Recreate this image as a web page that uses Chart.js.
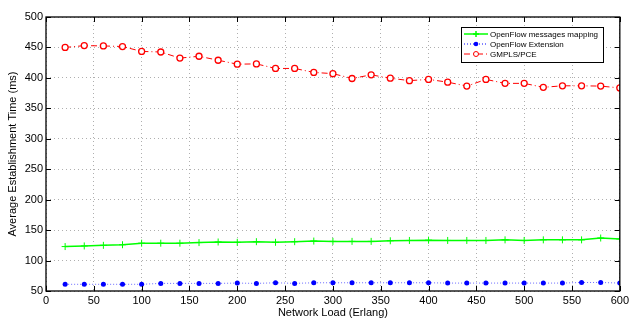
<!DOCTYPE html>
<html>
<head>
<meta charset="utf-8">
<script src="https://cdn.jsdelivr.net/npm/chart.js@4.4.1/dist/chart.umd.min.js"></script>
<style>
  html, body { margin: 0; padding: 0; background: #fff; }
  #wrap { width: 632px; height: 321px; }
</style>
</head>
<body>
<div id="wrap"><canvas id="chart" width="632" height="321"></canvas></div>
<script>
const loads = [20, 40, 60, 80, 100, 120, 140, 160, 180, 200, 220, 240, 260, 280, 300,
               320, 340, 360, 380, 400, 420, 440, 460, 480, 500, 520, 540, 560, 580, 600];
const ofMapping = [123, 124, 125, 126, 128.5, 128.5, 128.5, 129.5, 130.5, 130, 131, 130, 131, 132, 131.5,
                   131.5, 131.5, 132.5, 133, 133.5, 133, 133, 133, 134, 133, 134, 134, 134, 137, 135.5];
const ofExtension = [61, 61, 61, 61, 61, 62.5, 62.5, 62.5, 62.5, 63, 62.5, 63.5, 62.5, 63.5, 63.5,
                     63.5, 63.5, 63.5, 63.5, 63.5, 63, 63, 63, 63, 63, 63, 63, 64, 64, 63];
const gmpls = [450, 453, 452.5, 451.5, 443.5, 442.5, 432.5, 435.5, 429, 422.5, 423, 415.5, 415.5, 409, 407,
               399, 405, 399.5, 395.5, 397.5, 393, 386.5, 397.5, 391, 391, 384.5, 387, 387, 386.5, 383.5];
const xTicks = [0, 50, 100, 150, 200, 250, 300, 350, 400, 450, 500, 550, 600];
const yTicks = [50, 100, 150, 200, 250, 300, 350, 400, 450, 500];

const FONT = "'Liberation Sans', Arial, Helvetica, sans-serif";

const toPoints = (vals) => loads.map((x, i) => ({ x, y: vals[i] }));

// MATLAB-like frame: full box, inward ticks, boxed legend
const framePlugin = {
    id: 'frame',
    afterDraw(chart) {
        const { ctx, chartArea: a, scales } = chart;
        ctx.save();
        ctx.strokeStyle = '#000';
        ctx.lineWidth = 1;
        ctx.beginPath();
        xTicks.forEach(v => {
            const px = Math.round(scales.x.getPixelForValue(v)) + 0.5;
            ctx.moveTo(px, a.bottom); ctx.lineTo(px, a.bottom - 5);
            ctx.moveTo(px, a.top); ctx.lineTo(px, a.top + 5);
        });
        yTicks.forEach(v => {
            const py = Math.round(scales.y.getPixelForValue(v)) + 0.5;
            ctx.moveTo(a.left, py); ctx.lineTo(a.left + 5, py);
            ctx.moveTo(a.right, py); ctx.lineTo(a.right - 5, py);
        });
        ctx.stroke();
        ctx.lineWidth = 1.3;
        ctx.strokeRect(a.left, a.top, a.right - a.left, a.bottom - a.top);

        // legend
        const lx = 461, ly = 27, lw = 142, lh = 35;
        ctx.fillStyle = '#fff';
        ctx.fillRect(lx, ly, lw, lh);
        ctx.lineWidth = 1;
        ctx.strokeRect(lx + 0.5, ly + 0.5, lw, lh);
        const rows = [
            { label: 'OpenFlow messages mapping', color: '#00ff00', dash: [], lw: 1.5, mark: 'cross' },
            { label: 'OpenFlow Extension', color: '#0000ff', dash: [1, 2], lw: 1, mark: 'dot' },
            { label: 'GMPLS/PCE', color: '#ff0000', dash: [6, 3, 1, 3], lw: 1, mark: 'circle' }
        ];
        ctx.font = '8px ' + FONT;
        ctx.textBaseline = 'middle';
        rows.forEach((r, i) => {
            const y = 34 + i * 10;
            ctx.strokeStyle = r.color;
            ctx.lineWidth = r.lw;
            ctx.setLineDash(r.dash);
            ctx.beginPath();
            ctx.moveTo(464, y); ctx.lineTo(488, y);
            ctx.stroke();
            ctx.setLineDash([]);
            ctx.beginPath();
            if (r.mark === 'cross') {
                ctx.moveTo(473, y); ctx.lineTo(479, y);
                ctx.moveTo(476, y - 3); ctx.lineTo(476, y + 3);
                ctx.stroke();
            } else if (r.mark === 'dot') {
                ctx.fillStyle = r.color;
                ctx.arc(476, y, 2.3, 0, Math.PI * 2);
                ctx.fill();
            } else {
                ctx.fillStyle = '#fff';
                ctx.arc(476, y, 2.5, 0, Math.PI * 2);
                ctx.fill();
                ctx.stroke();
            }
            ctx.fillStyle = '#000';
            ctx.fillText(r.label, 490, y + 0.5);
        });
        ctx.restore();
    }
};

new Chart(document.getElementById('chart').getContext('2d'), {
    type: 'line',
    data: {
        datasets: [
            {
                label: 'OpenFlow messages mapping',
                data: toPoints(ofMapping),
                borderColor: '#00ff00',
                backgroundColor: '#00ff00',
                borderWidth: 1.5,
                pointStyle: 'cross',
                pointRadius: 3.5,
                pointBorderWidth: 1,
                tension: 0
            },
            {
                label: 'OpenFlow Extension',
                data: toPoints(ofExtension),
                borderColor: '#6a6aff',
                backgroundColor: '#0000ff',
                pointBorderColor: '#0000ff',
                borderWidth: 1,
                borderDash: [1, 2],
                pointStyle: 'circle',
                pointRadius: 2.5,
                pointBorderWidth: 0,
                tension: 0
            },
            {
                label: 'GMPLS/PCE',
                data: toPoints(gmpls),
                borderColor: '#ff0000',
                backgroundColor: '#ffffff',
                borderWidth: 1,
                borderDash: [6, 3, 1, 3],
                pointStyle: 'circle',
                pointRadius: 3,
                pointBorderWidth: 1.3,
                tension: 0
            }
        ]
    },
    options: {
        responsive: false,
        animation: false,
        layout: { padding: { top: 17, right: 10, left: 0, bottom: 0 } },
        plugins: {
            legend: { display: false },
            tooltip: { enabled: false }
        },
        scales: {
            x: {
                type: 'linear',
                min: 0,
                max: 600,
                afterFit: s => { s.height = 30; },
                afterBuildTicks: s => { s.ticks = xTicks.map(v => ({ value: v })); },
                ticks: { color: '#000', padding: 3, font: { family: FONT, size: 11 }, maxRotation: 0 },
                grid: { color: '#9a9a9a', drawTicks: false, lineWidth: 0.8 },
                border: { display: false, dash: [1, 3] },
                title: {
                    display: true,
                    text: 'Network Load (Erlang)',
                    color: '#000',
                    font: { family: FONT, size: 11 },
                    padding: { top: 0, bottom: 1 }
                }
            },
            y: {
                min: 50,
                max: 500,
                afterFit: s => { s.width = 46; },
                afterBuildTicks: s => { s.ticks = yTicks.map(v => ({ value: v })); },
                ticks: { color: '#000', padding: 3, font: { family: FONT, size: 11 } },
                grid: { color: '#9a9a9a', drawTicks: false, lineWidth: 0.8 },
                border: { display: false, dash: [1, 3] },
                title: {
                    display: true,
                    text: 'Average Establishment Time (ms)',
                    color: '#000',
                    font: { family: FONT, size: 11 },
                    padding: { top: 6, bottom: 0 }
                }
            }
        }
    },
    plugins: [framePlugin]
});
</script>
</body>
</html>
